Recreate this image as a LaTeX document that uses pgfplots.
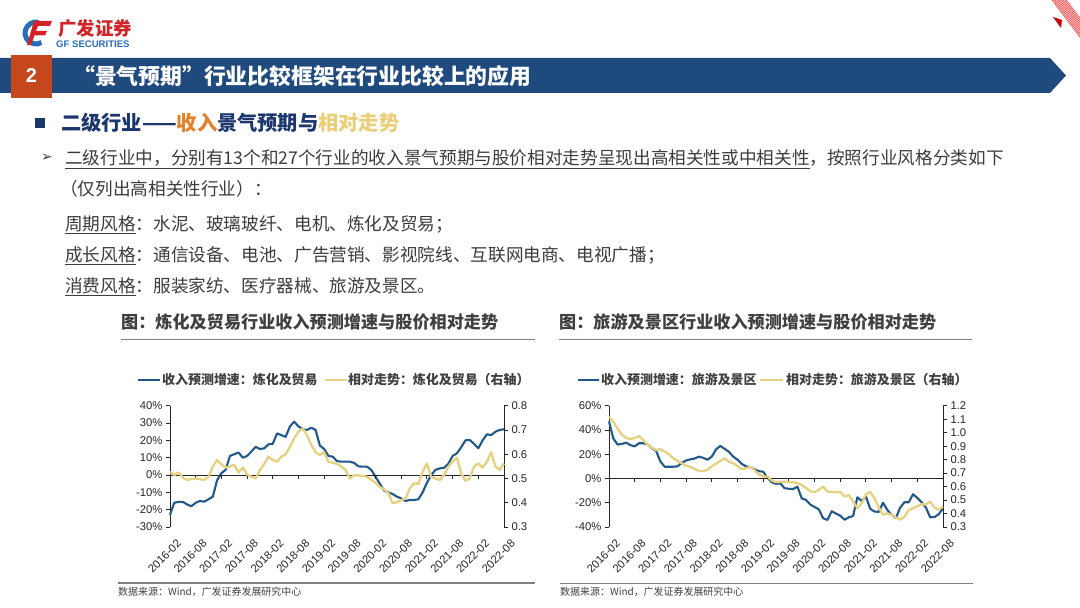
\documentclass[border=0pt]{standalone}
\usepackage{pgfplots}
\pgfplotsset{compat=1.18}
\usepackage{pgfplotstable}
\usepackage{fontspec}
\setmainfont{Liberation Sans}
\newfontfamily\cjk{Noto Sans CJK SC}
\newfontfamily\dejavu{DejaVu Sans}
\newcommand\fs[1]{\fontsize{#1}{#1}\selectfont}

\definecolor{bannerblue}{RGB}{31,74,126}
\definecolor{numorange}{RGB}{198,72,30}
\definecolor{navy}{RGB}{28,54,110}
\definecolor{hlorange}{RGB}{230,128,40}
\definecolor{hlgold}{RGB}{236,206,120}
\definecolor{bodygray}{RGB}{60,60,60}
\definecolor{titlegray}{RGB}{64,64,64}
\definecolor{rulegray}{RGB}{130,130,130}
\definecolor{serblue}{RGB}{33,89,138}
\definecolor{seryel}{RGB}{230,209,128}
\definecolor{logoblue}{RGB}{40,110,180}
\definecolor{logored}{RGB}{210,35,40}

% month index 0 = 2016-02 ... 78 = 2022-08
\pgfplotstableread{
i rev rel
0 -23 0.528
1 -16 0.514
2 -15.5 0.525
3 -15.5 0.503
4 -17 0.494
5 -18 0.498
6 -16 0.50
7 -15 0.497
8 -15.4 0.494
9 -14 0.507
10 -12.5 0.55
11 -3 0.576
12 1 0.558
13 3 0.545
14 11 0.549
15 12 0.556
16 13 0.524
17 10 0.545
18 11 0.517
19 13.5 0.507
20 16.3 0.50
21 15 0.535
22 15.4 0.56
23 17.7 0.59
24 18 0.576
25 24 0.569
26 23 0.59
27 22 0.60
28 28 0.63
29 30.8 0.665
30 28 0.693
31 26.4 0.707
32 26 0.679
33 27.3 0.638
34 26 0.608
35 17 0.597
36 15 0.608
37 11 0.569
38 10.6 0.565
39 8 0.56
40 7.7 0.55
41 7.7 0.535
42 7.7 0.50
43 7 0.514
44 5 0.512
45 4.8 0.511
46 4.8 0.507
47 3 0.494
48 -1 0.482
49 -5 0.465
50 -9 0.455
51 -10 0.44
52 -11 0.398
53 -12.5 0.402
54 -13.5 0.411
55 -15 0.418
56 -14.4 0.459
57 -14.4 0.48
58 -14 0.478
59 -10 0.528
60 -4.5 0.562
61 0 0.507
62 3 0.50
63 3.8 0.494
64 4.2 0.514
65 6.5 0.549
66 11 0.57
67 12.5 0.586
68 16 0.521
69 20 0.49
70 20.2 0.50
71 18 0.549
72 15.4 0.562
73 20 0.545
74 23.5 0.569
75 23 0.608
76 25 0.549
77 26 0.535
78 26.4 0.562
}\leftdata

\pgfplotstableread{
i rev rel
0 47 1.118
1 33 1.081
2 28 1.03
3 28.5 0.985
4 29.5 0.96
5 27.5 0.953
6 26.5 0.96
7 29 0.975
8 29 0.945
9 28 0.91
10 25 0.888
11 22.7 0.871
12 14 0.877
13 9.7 0.86
14 9.7 0.84
15 9.7 0.81
16 10 0.79
17 13 0.773
18 14.8 0.755
19 15.8 0.747
20 16.5 0.73
21 18 0.716
22 17 0.716
23 15.5 0.723
24 18 0.75
25 24 0.77
26 26.8 0.79
27 24.5 0.81
28 22 0.785
29 18 0.773
30 15.5 0.753
31 12 0.73
32 10 0.735
33 9.3 0.747
34 7.5 0.72
35 6 0.69
36 5.6 0.674
37 0.5 0.674
38 -3.1 0.645
39 -4.5 0.632
40 -4 0.635
41 -8 0.637
42 -8.5 0.632
43 -8.7 0.632
44 -6.7 0.625
45 -16.4 0.612
46 -17.7 0.59
47 -21.5 0.565
48 -23.5 0.558
49 -25.4 0.575
50 -32.8 0.60
51 -34.2 0.562
52 -27 0.56
53 -29 0.557
54 -30.6 0.562
55 -34 0.525
56 -32 0.537
57 -31 0.488
58 -15.5 0.439
59 -18.5 0.476
60 -15 0.543
61 -25 0.562
62 -27.3 0.513
63 -27.5 0.445
64 -20 0.39
65 -26 0.402
66 -30 0.39
67 -32.5 0.37
68 -24 0.355
69 -19.6 0.375
70 -19.6 0.426
71 -13 0.439
72 -16 0.455
73 -19.5 0.468
74 -24 0.468
75 -32 0.488
76 -31.8 0.443
77 -29.5 0.43
78 -24.6 0.451
}\rightdata

\pgfplotsset{
  gfbase/.style={scale only axis, width=334bp, height=121.3bp,
    xmin=0, xmax=78, tick align=outside, major tick length=4bp,
    axis line style={line width=0.9bp, color=black!85},
    tick style={line width=0.9bp, color=black!85},
    ticklabel style={font=\fs{11.3}, color=black!85},
    clip=false},
  gfleft/.style={gfbase, axis y line*=left, axis x line*=bottom,
    x axis line style={draw=none}, xtick style={draw=none},
    xtick={0,6,...,78},
    xticklabels={2016-02,2016-08,2017-02,2017-08,2018-02,2018-08,2019-02,2019-08,2020-02,2020-08,2021-02,2021-08,2022-02,2022-08},
    xticklabel style={rotate=45, anchor=east, inner sep=1bp, yshift=-14bp}},
  gfright/.style={gfbase, axis y line*=right, axis x line=none},
  bl/.style={serblue, line width=2.1bp, no markers, line join=round},
  yl/.style={seryel, line width=2.3bp, no markers, line join=round},
}

\begin{document}
\begin{tikzpicture}[x=1bp,y=1bp]
\useasboundingbox (0,0) rectangle (1080,608);
\fill[white] (0,0) rectangle (1080,608);

% ---- logo
\draw[logoblue, line width=5bp] (36,608-33) ++(75:11) arc (75:300:11);
\fill[logored] (34,608-21) -- (52,608-21) -- (50,608-26) -- (38,608-26) -- (36,608-31) -- (47,608-31) -- (45,608-35.5) -- (34.5,608-35.5) -- (31,608-45) -- (27,608-45) -- cycle;
\node[anchor=west, inner sep=0, font=\cjk\bfseries\fs{18.5}, logored] at (58,608-29) {广发证券};
\node[anchor=west, inner sep=0, font=\bfseries\fs{9.6}, logoblue] at (56,608-44.5) {GF SECURITIES};

% ---- top right decoration
\begin{scope}
\clip (1040,570) rectangle (1080,608);
\foreach \k in {0,...,9} \draw[red!75, line width=0.6bp] (1052+1.6*\k,608) -- ++(40,-53.3);
\end{scope}
\fill[red!80!black] (1053,608-17) -- (1062,608-20) -- (1061,608-28) -- cycle;

% ---- banner
\fill[bannerblue] (0,608-58) -- (1050,608-58) -- (1066,608-75.5) -- (1050,608-93) -- (0,608-93) -- cycle;
\fill[numorange] (11,608-55) rectangle (52,608-98);
\node[white, font=\bfseries\fs{20}] at (31.5,608-76) {2};
\node[anchor=west, white, font=\cjk\bfseries\fs{21.9}, inner sep=0] at (73,608-76) {“景气预期”行业比较框架在行业比较上的应用};

% ---- subheading
\fill[navy] (35,608-118) rectangle (45,608-128);
\node[anchor=west, inner sep=0, font=\cjk\bfseries\fs{20.3}] at (61,608-123) {\color{navy}二级行业——\color{hlorange}收入\color{navy}景气预期与\color{hlgold}相对走势};

% ---- body text
\node[anchor=west, inner sep=0, font=\dejavu\fs{14}, bodygray] at (41,608-158) {➢};
\node[anchor=base west, inner sep=0, font=\cjk\fs{17.7}, bodygray] at (65,608-164.7) {\underline{二级行业中，分别有13个和27个行业的收入景气预期与股价相对走势呈现出高相关性或中相关性}，按照行业风格分类如下};
\node[anchor=base west, inner sep=0, font=\cjk\fs{17.7}, bodygray] at (60,608-195.7) {（仅列出高相关性行业）：};
\node[anchor=base west, inner sep=0, font=\cjk\fs{17.7}, bodygray] at (65,608-230.7) {\underline{周期风格}：水泥、玻璃玻纤、电机、炼化及贸易；};
\node[anchor=base west, inner sep=0, font=\cjk\fs{17.7}, bodygray] at (65,608-261.7) {\underline{成长风格}：通信设备、电池、广告营销、影视院线、互联网电商、电视广播；};
\node[anchor=base west, inner sep=0, font=\cjk\fs{17.7}, bodygray] at (65,608-292.7) {\underline{消费风格}：服装家纺、医疗器械、旅游及景区。};

% ---- chart titles, rules, legends, sources
\node[anchor=west, inner sep=0, font=\cjk\bfseries\fs{17.2}, titlegray] at (121,608-322) {图：炼化及贸易行业收入预测增速与股价相对走势};
\node[anchor=west, inner sep=0, font=\cjk\bfseries\fs{17.2}, titlegray] at (559,608-322) {图：旅游及景区行业收入预测增速与股价相对走势};
\draw[rulegray, line width=1.3bp] (121,608-339.5) -- (535,608-339.5);
\draw[rulegray, line width=1.3bp] (559,608-339.5) -- (972,608-339.5);

\draw[serblue, line width=2.1bp] (138,608-380) -- (160,608-380);
\node[anchor=west, inner sep=0, font=\cjk\bfseries\fs{13}, titlegray] at (162,608-380) {收入预测增速：炼化及贸易};
\draw[seryel, line width=2.3bp] (325,608-380) -- (347,608-380);
\node[anchor=west, inner sep=0, font=\cjk\bfseries\fs{13}, titlegray] at (348,608-380) {相对走势：炼化及贸易（右轴）};

\draw[serblue, line width=2.1bp] (578,608-380) -- (599,608-380);
\node[anchor=west, inner sep=0, font=\cjk\bfseries\fs{13}, titlegray] at (601,608-380) {收入预测增速：旅游及景区};
\draw[seryel, line width=2.3bp] (760,608-380) -- (783,608-380);
\node[anchor=west, inner sep=0, font=\cjk\bfseries\fs{13}, titlegray] at (786,608-380) {相对走势：旅游及景区（右轴）};

\draw[rulegray, line width=1.2bp] (118,608-583) -- (535,608-583);
\draw[rulegray, line width=1.2bp] (560,608-583.5) -- (973,608-583.5);
\node[anchor=west, inner sep=0, font=\cjk\fs{10}, titlegray] at (118,608-592) {数据来源：Wind，广发证券发展研究中心};
\node[anchor=west, inner sep=0, font=\cjk\fs{10}, titlegray] at (560,608-592) {数据来源：Wind，广发证券发展研究中心};

% ---- left chart
\begin{axis}[gfleft, at={(170bp,81bp)}, anchor=south west,
  ymin=-30, ymax=40, ytick={-30,-20,-10,0,10,20,30,40},
  yticklabels={-30\%,-20\%,-10\%,0\%,10\%,20\%,30\%,40\%}]
\addplot[bl] table[x=i,y=rev] {\leftdata};
\draw[black!85, line width=0.9bp] (axis cs:0,0) -- (axis cs:78,0);
\pgfplotsinvokeforeach{6,12,18,24,30,36,42,48,54,60,66,72}{\draw[black!85, line width=0.9bp] (axis cs:#1,0) -- ([yshift=-4bp]axis cs:#1,0);}
\end{axis}
\begin{axis}[gfright, at={(170bp,81bp)}, anchor=south west,
  ymin=0.3, ymax=0.8, ytick={0.3,0.4,0.5,0.6,0.7,0.8},
  yticklabels={0.3,0.4,0.5,0.6,0.7,0.8}]
\addplot[yl] table[x=i,y=rel] {\leftdata};
\end{axis}

% ---- right chart
\begin{axis}[gfleft, at={(609bp,81bp)}, anchor=south west,
  ymin=-40, ymax=60, ytick={-40,-20,0,20,40,60},
  yticklabels={-40\%,-20\%,0\%,20\%,40\%,60\%}]
\addplot[bl] table[x=i,y=rev] {\rightdata};
\draw[black!85, line width=0.9bp] (axis cs:0,0) -- (axis cs:78,0);
\pgfplotsinvokeforeach{6,12,18,24,30,36,42,48,54,60,66,72}{\draw[black!85, line width=0.9bp] (axis cs:#1,0) -- ([yshift=-4bp]axis cs:#1,0);}
\end{axis}
\begin{axis}[gfright, at={(609bp,81bp)}, anchor=south west,
  ymin=0.3, ymax=1.2, ytick={0.3,0.4,0.5,0.6,0.7,0.8,0.9,1.0,1.1,1.2},
  yticklabels={0.3,0.4,0.5,0.6,0.7,0.8,0.9,1.0,1.1,1.2}]
\addplot[yl] table[x=i,y=rel] {\rightdata};
\end{axis}
\end{tikzpicture}
\end{document}
